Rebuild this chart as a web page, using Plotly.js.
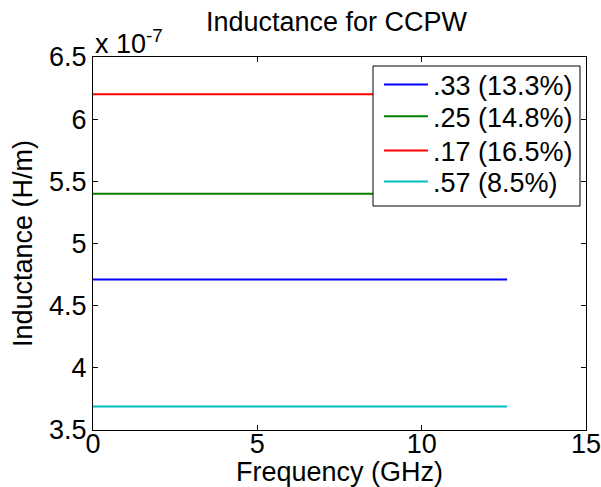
<!DOCTYPE html>
<html><head><meta charset="utf-8">
<script src="https://cdn.plot.ly/plotly-3.0.1.min.js"></script>
<style>html,body{margin:0;padding:0;background:#fff}#c{width:601px;height:487px}</style>
</head><body><div id="c"></div>
<script>
const freq = [0, 12.6];
const names = [".33 (13.3%)", ".25 (14.8%)", ".17 (16.5%)", ".57 (8.5%)"];
const inductance = [4.71e-7, 5.40e-7, 6.20e-7, 3.69e-7];
const colors = ["#0000ff", "#008000", "#ff0000", "#00bfbf"];
const xTicks = [0, 5, 10, 15];
const yTicks = [3.5e-7, 4e-7, 4.5e-7, 5e-7, 5.5e-7, 6e-7, 6.5e-7];
const yTickText = ["3.5", "4", "4.5", "5", "5.5", "6", "6.5"];

const F = "Liberation Sans, Arial, sans-serif";
const FS = 27;
const legendIds = ["legend", "legend2", "legend3", "legend4"];
const legendY = [0.925, 0.840, 0.7483, 0.6652];
const traces = names.map((n, i) => ({
  x: freq, y: freq.map(() => inductance[i]),
  type: "scatter", mode: "lines", name: n, legend: legendIds[i],
  line: {color: colors[i], width: 2}
}));
const layout = {
  width: 601, height: 487,
  margin: {l: 93, r: 15, t: 57, b: 57},
  paper_bgcolor: "#fff", plot_bgcolor: "#fff",
  font: {family: F, size: FS, color: "#000"},
  title: {text: "Inductance for CCPW", font: {family: F, size: FS}, x: 0.56, xanchor: "center", y: 0.955, yanchor: "middle"},
  xaxis: {range: [0, 15], tickvals: xTicks, ticks: "inside", ticklen: 5, tickcolor: "#000",
    showline: true, linecolor: "#000", linewidth: 1, mirror: "ticks", showgrid: false, zeroline: false,
    ticklabeloverflow: "allow", ticklabelstandoff: -10,
    tickfont: {family: F, size: FS}, title: {text: "Frequency (GHz)", font: {family: F, size: FS}, standoff: 2}},
  yaxis: {range: [3.5e-7, 6.5e-7], tickvals: yTicks, ticktext: yTickText, ticks: "inside", ticklen: 5, tickcolor: "#000",
    showline: true, linecolor: "#000", linewidth: 1, mirror: "ticks", showgrid: false, zeroline: false,
    tickfont: {family: F, size: FS}, title: {text: "Inductance (H/m)", font: {family: F, size: FS}, standoff: 8}},
  showlegend: true,
  shapes: [{type: "rect", xref: "paper", yref: "paper", x0: 0.568, x1: 0.9878, y0: 0.6005, y1: 0.9759,
    fillcolor: "#fff", line: {color: "#000", width: 1}, layer: "above"}],
  annotations: [{text: "x 10<sup>-7</sup>", xref: "paper", yref: "paper", x: 0.0, y: 0.99, xanchor: "left", yanchor: "bottom",
    showarrow: false, font: {family: F, size: FS}}]
};
legendIds.forEach((id, i) => {
  layout[id] = {x: 0.580, xanchor: "left", y: legendY[i], yanchor: "middle", bgcolor: "rgba(0,0,0,0)",
    borderwidth: 0, font: {family: F, size: FS}, itemwidth: 44, tracegroupgap: 0};
});
Plotly.newPlot("c", traces, layout, {displayModeBar: false, staticPlot: true});
</script></body></html>
